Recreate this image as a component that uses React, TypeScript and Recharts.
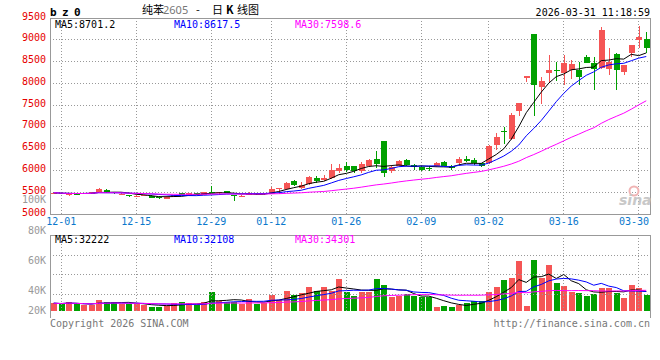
import { ComposedChart, Bar, Line, XAxis, YAxis, CartesianGrid, ReferenceLine, Cell } from "recharts";

// daily K data, 11-28 .. 03-31
const DATES = [
  "11-28",
  "12-01", "12-02", "12-03", "12-04", "12-05", "12-08", "12-09", "12-10", "12-11", "12-12",
  "12-15", "12-16", "12-17", "12-18", "12-19", "12-22", "12-23", "12-24", "12-25", "12-26",
  "12-29", "12-30", "12-31",
  "01-05", "01-06", "01-07", "01-08", "01-09", "01-12", "01-13", "01-14", "01-15", "01-16",
  "01-19", "01-20", "01-21", "01-22", "01-23", "01-26", "01-27", "01-28", "01-29", "01-30",
  "02-02", "02-03", "02-04", "02-05", "02-06", "02-09", "02-10", "02-11", "02-12", "02-13",
  "02-24", "02-25", "02-26", "02-27",
  "03-02", "03-03", "03-04", "03-05", "03-06", "03-09", "03-10", "03-11", "03-12", "03-13",
  "03-16", "03-17", "03-18", "03-19", "03-20", "03-23", "03-24", "03-25", "03-26", "03-27",
  "03-30", "03-31",
];

const OPEN = [
  5460, 5480, 5455, 5470, 5460, 5465, 5485, 5550, 5500, 5462,
  5440, 5405, 5415, 5420, 5390, 5355, 5400, 5480, 5445, 5485,
  5445, 5510, 5480, 5520, 5430, 5410, 5440, 5485, 5450, 5470,
  5570, 5575, 5760, 5605, 5690, 5835, 5780, 5830, 5995, 6100,
  6100, 5995, 6100, 6265, 6675, 5995, 6110, 6240, 6125, 6090,
  6065, 6100, 6195, 6110, 6175, 6265, 6240, 6165, 6180, 6585,
  6900, 6715, 7370, 8130, 9130, 7920, 8230, 8305, 8230, 8300,
  8300, 8595, 8470, 8360, 8320, 8670, 8265, 8690, 8995, 9015,
];
const HIGH = [
  5500, 5490, 5475, 5480, 5490, 5505, 5590, 5570, 5505, 5480,
  5445, 5425, 5430, 5425, 5395, 5405, 5445, 5490, 5490, 5490,
  5515, 5650, 5515, 5535, 5440, 5440, 5500, 5490, 5490, 5620,
  5600, 5740, 5790, 5735, 5870, 5865, 5890, 6140, 6150, 6190,
  6110, 6190, 6265, 6447, 6680, 6130, 6240, 6270, 6150, 6110,
  6105, 6200, 6220, 6130, 6320, 6330, 6275, 6175, 6580, 6850,
  7005, 7325, 7545, 8175, 9135, 8150, 8650, 8480, 8660, 8530,
  8480, 8650, 8610, 9290, 8800, 8700, 8430, 8890, 9320, 9180,
];
const LOW = [
  5450, 5455, 5415, 5450, 5455, 5460, 5475, 5475, 5470, 5440,
  5395, 5400, 5405, 5370, 5345, 5350, 5395, 5440, 5440, 5445,
  5440, 5475, 5470, 5475, 5305, 5395, 5425, 5440, 5445, 5465,
  5470, 5555, 5640, 5570, 5670, 5720, 5760, 5805, 5940, 5970,
  5935, 5950, 6080, 6060, 5855, 5935, 6100, 6095, 6010, 5990,
  5990, 6080, 6100, 6015, 6130, 6200, 6130, 6090, 6150, 6470,
  6607, 6700, 7250, 8037, 7250, 7530, 8030, 8060, 7960, 8100,
  7960, 8460, 7850, 8340, 8190, 7850, 8180, 8610, 8800, 8690,
];
const CLOSE = [
  5490, 5465, 5465, 5460, 5475, 5500, 5570, 5480, 5480, 5470,
  5410, 5420, 5425, 5375, 5365, 5400, 5440, 5445, 5485, 5450,
  5510, 5480, 5510, 5480, 5415, 5420, 5485, 5450, 5485, 5575,
  5590, 5715, 5655, 5665, 5855, 5760, 5820, 6010, 6065, 6010,
  5990, 6150, 6240, 6150, 5935, 6085, 6225, 6125, 6080, 6010,
  6030, 6180, 6110, 6050, 6265, 6220, 6165, 6110, 6560, 6775,
  6875, 7273, 7540, 8165, 7960, 8050, 8305, 8290, 8470, 8440,
  8150, 8470, 8330, 9220, 8500, 8310, 8420, 8880, 9070, 8810,
];
const VOLUME = [
  31700, 31200, 32300, 31200, 30500, 30500, 33900, 32500, 32500, 31200,
  31200, 31200, 30500, 29400, 29400, 29800, 31600, 32500, 31600, 30500,
  32300, 39300, 33200, 32800, 32800, 31200, 34600, 31200, 32100, 37300,
  33900, 40000, 37100, 38600, 42700, 40000, 42700, 40000, 48100, 39100,
  36800, 39100, 39100, 48100, 44300, 35700, 36600, 38000, 36600, 35700,
  35700, 29200, 29800, 29200, 30500, 32100, 33200, 33200, 39300, 42700,
  47500, 48800, 60300, 29800, 61000, 48600, 57600, 45400, 43400, 39600,
  38900, 36800, 38000, 42300, 42300, 38900, 35500, 44300, 42300, 37300,
];

const X_TICKS = ["12-01", "12-15", "12-29", "01-12", "01-26", "02-09", "03-02", "03-16", "03-30"];
const PRICE_TICKS = [5000, 5500, 6000, 6500, 7000, 7500, 8000, 8500, 9000, 9500];
const VOL_GRID = [37300, 50850, 64400];
const VOL_LABELS = ["100K", "80K", "60K", "40K", "20K"];
const PRICE_MA_LEGEND = ["MA5:8701.2", "MA10:8617.5", "MA30:7598.6"];
const VOL_MA_LEGEND = ["MA5:32222", "MA10:32108", "MA30:34301"];

const RED = "#f55555";
const GREEN = "#00a000";
const MA_COLORS = ["#000000", "#0000ff", "#ff00ff"];
const MONO = "'DejaVu Sans Mono', monospace";

// moving average, partial window at the start
const movingAvg = (vals: number[], n: number) =>
  vals.map((_, i) => {
    const w = vals.slice(Math.max(0, i - n + 1), i + 1);
    return w.reduce((s, v) => s + v, 0) / w.length;
  });

const pma5 = movingAvg(CLOSE, 5);
const pma10 = movingAvg(CLOSE, 10);
const pma30 = movingAvg(CLOSE, 30);
const vma5 = movingAvg(VOLUME, 5);
const vma10 = movingAvg(VOLUME, 10);
const vma30 = movingAvg(VOLUME, 30);

const rows = DATES.map((d, i) => ({
  d,
  o: OPEN[i],
  h: HIGH[i],
  l: LOW[i],
  c: CLOSE[i],
  range: [LOW[i], HIGH[i]],
  vol: VOLUME[i],
  ma5: pma5[i],
  ma10: pma10[i],
  ma30: pma30[i],
  vma5: vma5[i],
  vma10: vma10[i],
  vma30: vma30[i],
}));

function Candle(props: any) {
  const { x, y, width, height, payload } = props;
  const { o, h, l, c } = payload;
  const span = h - l || 1;
  const toY = (v: number) => y + ((h - v) / span) * height;
  const color = c >= o ? RED : GREEN;
  const cx = Math.floor(x + width / 2) + 0.5;
  const top = toY(Math.max(o, c));
  const bot = toY(Math.min(o, c));
  return (
    <g shapeRendering="crispEdges">
      <line x1={cx} x2={cx} y1={y} y2={y + height} stroke={color} strokeWidth={1} />
      <rect x={x} y={top} width={width} height={Math.max(1, bot - top)} fill={color} />
    </g>
  );
}

export default function App() {
  return (
    <div style={{ position: "absolute", left: 0, top: 0, width: 660, height: 360, background: "#fff", overflow: "hidden" }}>
      <div style={{ position: "absolute", left: 0, top: 0 }}>
        <ComposedChart width={660} height={240} data={rows} margin={{ top: 18, right: 10, bottom: 0, left: 0 }}>
          <CartesianGrid stroke="#999" strokeDasharray="1 2" shapeRendering="crispEdges" />
          <XAxis
            dataKey="d"
            ticks={X_TICKS}
            interval={0}
            height={26}
            tickLine={false}
            axisLine={false}
            tick={(p: any) => (
              <text x={Math.min(p.x, 634)} y={224.5} textAnchor="middle" fill="#0a78cc" fontSize={10} fontFamily={MONO}>
                {p.payload.value}
              </text>
            )}
          />
          <YAxis
            domain={[5000, 9500]}
            allowDataOverflow
            ticks={PRICE_TICKS}
            interval={0}
            width={50}
            tickLine={false}
            axisLine={false}
            tick={(p: any) => (
              <text x={46} y={p.y + 1.5} textAnchor="end" fill="#e60000" fontSize={10} fontFamily={MONO}>
                {p.payload.value}
              </text>
            )}
          />
          <Bar dataKey="range" barSize={6} shape={(p: any) => <Candle {...p} />} isAnimationActive={false} />
          <Line type="linear" dataKey="ma5" stroke={MA_COLORS[0]} strokeWidth={1} dot={false} isAnimationActive={false} />
          <Line type="linear" dataKey="ma10" stroke={MA_COLORS[1]} strokeWidth={1} dot={false} isAnimationActive={false} />
          <Line type="linear" dataKey="ma30" stroke={MA_COLORS[2]} strokeWidth={1} dot={false} isAnimationActive={false} />
        </ComposedChart>
      </div>

      <div style={{ position: "absolute", left: 0, top: 235 }}>
        <ComposedChart width={660} height={76} data={rows} margin={{ top: 0, right: 10, bottom: 0, left: 50 }}>
          <XAxis dataKey="d" hide />
          <YAxis hide domain={[26400, 78000]} allowDataOverflow />
          {X_TICKS.map((t) => (
            <ReferenceLine key={t} x={t} stroke="#999" strokeDasharray="1 2" shapeRendering="crispEdges" />
          ))}
          {VOL_GRID.map((v) => (
            <ReferenceLine key={v} y={v} stroke="#999" strokeDasharray="1 2" shapeRendering="crispEdges" />
          ))}
          <Bar dataKey="vol" barSize={6} isAnimationActive={false} shapeRendering="crispEdges">
            {rows.map((r, i) => (
              <Cell key={i} fill={r.c >= r.o ? RED : GREEN} />
            ))}
          </Bar>
          <Line type="linear" dataKey="vma5" stroke={MA_COLORS[0]} strokeWidth={1} dot={false} isAnimationActive={false} />
          <Line type="linear" dataKey="vma10" stroke={MA_COLORS[1]} strokeWidth={1} dot={false} isAnimationActive={false} />
          <Line type="linear" dataKey="vma30" stroke={MA_COLORS[2]} strokeWidth={1} dot={false} isAnimationActive={false} />
        </ComposedChart>
      </div>

      <svg width={660} height={360} style={{ position: "absolute", left: 0, top: 0, pointerEvents: "none" }}>
        <g fill="none" stroke="#999" shapeRendering="crispEdges">
          <rect x={50.5} y={18.5} width={600} height={196} />
          <path d="M50.5 318 V235.5 H650.5 V318" />
        </g>

        <text x={50} y={16} fontSize={11} fontWeight="bold" fontFamily={MONO} letterSpacing={-0.6} fill="#000">b z 0</text>
        <text y={13.5} fontSize={11} fill="#000" fontFamily="'Noto Sans CJK SC', sans-serif">
          <tspan x={142}>纯苯</tspan>
          <tspan x={163} fill="#777" fontFamily="'Noto Sans', sans-serif">2605</tspan>
          <tspan x={196}>-</tspan>
          <tspan x={212}>日</tspan>
          <tspan x={226} fontWeight="bold">K</tspan>
          <tspan x={237}>线图</tspan>
        </text>
        <text x={650} y={16} textAnchor="end" fontSize={10} fontFamily={MONO} fill="#000">2026-03-31 11:18:59</text>

        {PRICE_MA_LEGEND.map((t, i) => (
          <text key={t} x={[55, 174, 295][i]} y={27.5} fontSize={10} fontFamily={MONO} fill={MA_COLORS[i]}>{t}</text>
        ))}
        {VOL_MA_LEGEND.map((t, i) => (
          <text key={t} x={[55, 174, 295][i]} y={242.5} fontSize={10} fontFamily={MONO} fill={MA_COLORS[i]}>{t}</text>
        ))}

        {VOL_LABELS.map((t, i) => (
          <text key={t} x={46} y={[203, 234, 264, 294, 314][i]} textAnchor="end" fontSize={10} fontFamily={MONO} fill="#999">{t}</text>
        ))}

        <text x={50} y={327} fontSize={10} fontFamily={MONO} fill="#777">Copyright 2026 SINA.COM</text>
        <text x={650} y={327} textAnchor="end" fontSize={10} fontFamily={MONO} fill="#777">http://finance.sina.com.cn</text>

        <circle cx={634} cy={191} r={4.5} fill="none" stroke="#f0b4b4" strokeWidth={2} />
        <text x={619} y={205} fontSize={14} fontStyle="italic" fontWeight="bold" fontFamily="'DejaVu Sans', sans-serif" fill="#c8c8c8">sina</text>
      </svg>
    </div>
  );
}
